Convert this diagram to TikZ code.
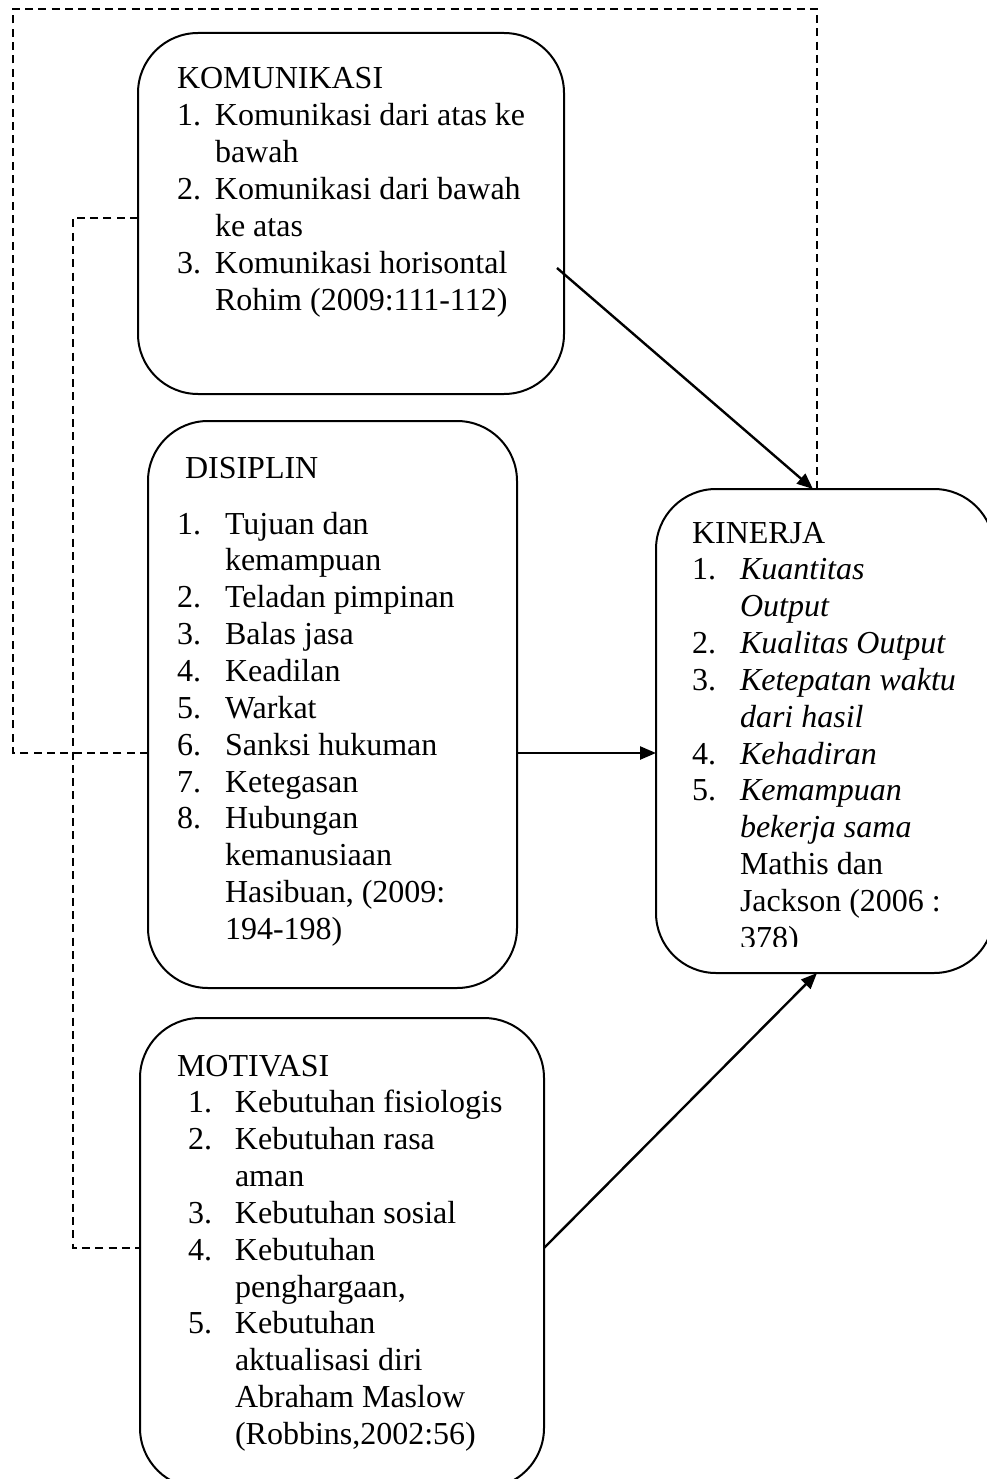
\documentclass[tikz,border=0pt]{standalone}
\usepackage{fontspec}
\setmainfont{Liberation Serif}
\usetikzlibrary{arrows.meta}
\newcommand{\nbx}[2]{\makebox[#1][l]{#2}}
\begin{document}
\begin{tikzpicture}[x=1pt,y=-1pt,
  box/.style={draw, line width=2pt, rounded corners=60pt, rectangle, inner sep=0pt, outer sep=0pt},
  txt/.style={inner sep=0pt, outer sep=0pt, anchor=base west, font=\fontsize{32}{36.85}\selectfont},
  dline/.style={line width=1.6pt, dash pattern=on 8pt off 5.3pt},
  arr/.style={line width=2.4pt, -{Triangle[length=16pt,width=13pt]}}]
\useasboundingbox (0,0) rectangle (986,1479);
\fill[white] (0,0) rectangle (986,1479);

% boxes
\node[box, minimum width=426pt, minimum height=361pt] (kom) at (351,213.5) {};
\node[box, minimum width=369pt, minimum height=567pt] (dis) at (332.5,704.5) {};
\node[box, minimum width=338pt, minimum height=484pt] (kin) at (825,731) {};
\node[box, minimum width=404pt, minimum height=470pt] (mot) at (342,1253) {};

% texts
\node[txt] (komtxt) at (177,89) {\begin{tabular}[t]{@{}l@{}l@{}}
\multicolumn{2}{@{}l@{}}{KOMUNIKASI}\\
\nbx{38pt}{1.} & Komunikasi dari atas ke\\
 & bawah\\
\nbx{38pt}{2.} & Komunikasi dari bawah\\
 & ke atas\\
\nbx{38pt}{3.} & Komunikasi horisontal\\
 & Rohim (2009:111-112)
\end{tabular}};

\node[txt] (distxt) at (177,478) {\begin{tabular}[t]{@{}l@{}l@{}}
\multicolumn{2}{@{}l@{}}{\hspace{8pt}DISIPLIN}\\[19.2pt]
\nbx{48pt}{1.} & Tujuan dan\\
 & kemampuan\\
\nbx{48pt}{2.} & Teladan pimpinan\\
\nbx{48pt}{3.} & Balas jasa\\
\nbx{48pt}{4.} & Keadilan\\
\nbx{48pt}{5.} & Warkat\\
\nbx{48pt}{6.} & Sanksi hukuman\\
\nbx{48pt}{7.} & Ketegasan\\
\nbx{48pt}{8.} & Hubungan\\
 & kemanusiaan\\
 & Hasibuan, (2009:\\
 & 194-198)
\end{tabular}};

\begin{scope}
\clip (600,480) rectangle (1000,946);
\node[txt] (kintxt) at (692,543) {\begin{tabular}[t]{@{}l@{}l@{}}
\multicolumn{2}{@{}l@{}}{KINERJA}\\
\nbx{48pt}{1.} & \textit{Kuantitas}\\
 & \textit{Output}\\
\nbx{48pt}{2.} & \textit{Kualitas Output}\\
\nbx{48pt}{3.} & \textit{Ketepatan waktu}\\
 & \textit{dari hasil}\\
\nbx{48pt}{4.} & \textit{Kehadiran}\\
\nbx{48pt}{5.} & \textit{Kemampuan}\\
 & \textit{bekerja sama}\\
 & Mathis dan\\
 & Jackson (2006 :\\
 & 378)
\end{tabular}};
\end{scope}

\node[txt] (mottxt) at (177,1076) {\begin{tabular}[t]{@{}l@{}l@{}}
\multicolumn{2}{@{}l@{}}{MOTIVASI}\\
\nbx{58pt}{\hspace{11pt}1.} & Kebutuhan fisiologis\\
\nbx{58pt}{\hspace{11pt}2.} & Kebutuhan rasa\\
 & aman\\
\nbx{58pt}{\hspace{11pt}3.} & Kebutuhan sosial\\
\nbx{58pt}{\hspace{11pt}4.} & Kebutuhan\\
 & penghargaan,\\
\nbx{58pt}{\hspace{11pt}5.} & Kebutuhan\\
 & aktualisasi diri\\
 & Abraham Maslow\\
 & (Robbins,2002:56)
\end{tabular}};

% helper coordinates
\coordinate (cTL) at (13,9);
\coordinate (cTR) at (817,9);
\coordinate (cDL) at (13,753);
\coordinate (cKL) at (73,218);
\coordinate (cML) at (73,1248);
\coordinate (aK) at (557,268);
\coordinate (aT) at (813,0);

% dashed connectors
\draw[dline] (dis.west |- cDL) -- (cDL) -- (cTL) -- (cTR) -- (kin.north -| cTR);
\draw[dline] (kom.west |- cKL) -- (cKL) -- (cML) -- (mot.west |- cML);

% arrows
\draw[arr] (aK) -- (kin.north -| aT);
\draw[arr] (dis.east |- cDL) -- (kin.west |- cDL);
\draw[arr] (mot.east |- cML) -- (kin.south -| cTR);
\end{tikzpicture}
\end{document}
